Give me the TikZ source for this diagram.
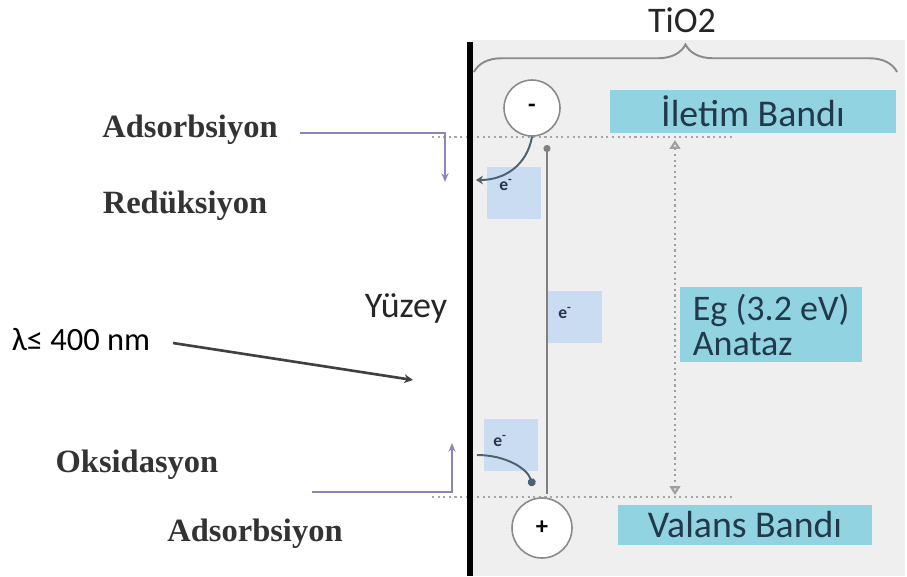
\documentclass[tikz,border=0pt]{standalone}
\usepackage{fontspec}
\setmainfont{Liberation Serif}
\newfontfamily\calfont{Carlito}
\usetikzlibrary{arrows.meta,decorations.pathreplacing}

\definecolor{panelgray}{HTML}{EFEFEF}
\definecolor{bandcyan}{HTML}{92D3E2}
\definecolor{bandtext}{HTML}{21394A}
\definecolor{elblue}{HTML}{CADCF2}
\definecolor{lilac}{HTML}{8C86B8}
\definecolor{rimgray}{HTML}{8A8A8A}

\tikzset{
  band/.style={fill=bandcyan,text=bandtext,font=\calfont\fontsize{21.5}{21}\selectfont,inner sep=0pt},
  ebox/.style={fill=elblue,inner sep=0pt,minimum width=1.1cm,minimum height=1.05cm},
  elabel/.style={text=bandtext,font=\calfont\bfseries\fontsize{10}{10}\selectfont,inner sep=0pt},
  hole/.style={shape=circle,draw=rimgray,fill=white,line width=0.9pt,inner sep=0pt,font=\calfont\bfseries\fontsize{14}{14}\selectfont},
  proc/.style={font=\bfseries\fontsize{18.5}{20}\selectfont,text=black!80},
  sanslbl/.style={font=\calfont\fontsize{20.5}{22}\selectfont,text=black!85},
  lilacline/.style={draw=lilac,line width=1.6pt,-{Stealth[length=5pt,width=4pt]}},
  levelline/.style={draw=gray!70,dotted,line width=1.2pt}
}

\begin{document}
\begin{tikzpicture}[x=0.02cm,y=-0.02cm]
        \useasboundingbox (0,0) rectangle (907,576);
        \fill[panelgray] (472,40) rectangle (905,576);

        \node[sanslbl] (tio2) at (682,20) {TiO2};
        \coordinate (brL) at (474,72);
        \coordinate (brR) at (897,72);
        \draw[decorate,decoration={brace,amplitude=0.55cm},draw=rimgray,line width=1.1pt] (brL) -- (brR);

        \node[band,minimum width=5.74cm,minimum height=0.86cm] (ibandi) at (753,111) {İletim Bandı};
        \node[band,minimum width=5.1cm,minimum height=0.8cm] (vbandi) at (745,525) {Valans Bandı};
        \node[band,anchor=north west,align=left,inner xsep=0.25cm,minimum height=1.5cm,font=\calfont\fontsize{20.5}{20}\selectfont] (egbox) at (680,287) {Eg (3.2 eV)\\Anataz};

        \node[ebox] (eb1) at (514,193) {};
        \node[ebox] (eb2) at (575,317) {};
        \node[ebox] (eb3) at (511,445) {};
        \node[elabel] (el1) at (506,185) {e\textsuperscript{-}};
        \node[elabel] (el2) at (565,313) {e\textsuperscript{-}};
        \node[elabel] (el3) at (500,441) {e\textsuperscript{-}};

        \coordinate (cbL) at (432,137);
        \coordinate (cbR) at (735,137);
        \coordinate (vbL) at (432,497);
        \coordinate (vbR) at (735,497);
        \path[levelline] (cbL) edge (cbR);
        \path[levelline] (vbL) edge (vbR);

        \coordinate (egTop) at (675,140);
        \coordinate (egBot) at (675,495);
        \draw[draw=gray!75,dotted,line width=1.2pt,{Triangle[open,length=5pt,width=6pt]}-{Triangle[open,length=5pt,width=6pt]}] (egTop) -- (egBot);

        \coordinate (gapTop) at (547,145);
        \coordinate (gapBot) at (547,494);
        \draw[draw=gray,line width=1pt,-{Circle[length=4pt]}] (gapBot) -- (gapTop);

        \coordinate (sTop) at (470,42);
        \coordinate (sBot) at (470,576);
        \draw[line width=3pt] (sTop) -- (sBot);

        \node[hole,minimum size=1.12cm] (cminus) at (532,108) {-};
        \node[hole,minimum size=1.2cm] (cplus) at (542,528) {+};

        \coordinate (surfUp) at (476,180);
        \coordinate (surfLo) at (477,455);
        \coordinate (dotLo) at (533,486);
        \draw[draw=bandtext!80,line width=1.1pt,-{Stealth[length=4pt,width=5pt]}] (cminus.south) .. controls (527,165) and (505,180) .. (surfUp);
        \draw[draw=bandtext!80,line width=1.1pt,-{Circle[length=4.5pt]}] (surfLo) .. controls (505,455) and (527,468) .. (dotLo);

        \node[proc] (ads1) at (190,130) {Adsorbsiyon};
        \node[proc] (red) at (185,206) {Redüksiyon};
        \node[proc] (oks) at (137,465) {Oksidasyon};
        \node[proc] (ads2) at (255,534) {Adsorbsiyon};

        \coordinate (adTopA) at (300,133);
        \coordinate (adTopB) at (445,182);
        \coordinate (adBotA) at (312,492);
        \coordinate (adBotB) at (452,443);
        \draw[lilacline] (adTopA) -| (adTopB);
        \draw[lilacline] (adBotA) -| (adBotB);

        \node[sanslbl] (yuzey) at (406,308) {Yüzey};
        \node[sanslbl,text=black,font=\calfont\fontsize{18.5}{20}\selectfont] (lamda) at (81,340) {λ≤ 400 nm};
        \coordinate (lamA) at (173,343);
        \coordinate (lamB) at (413,380);
        \draw[draw=black!75,line width=1.5pt,-{Stealth[length=5pt,width=5pt]}] (lamA) -- (lamB);
    \end{tikzpicture}
\end{document}
